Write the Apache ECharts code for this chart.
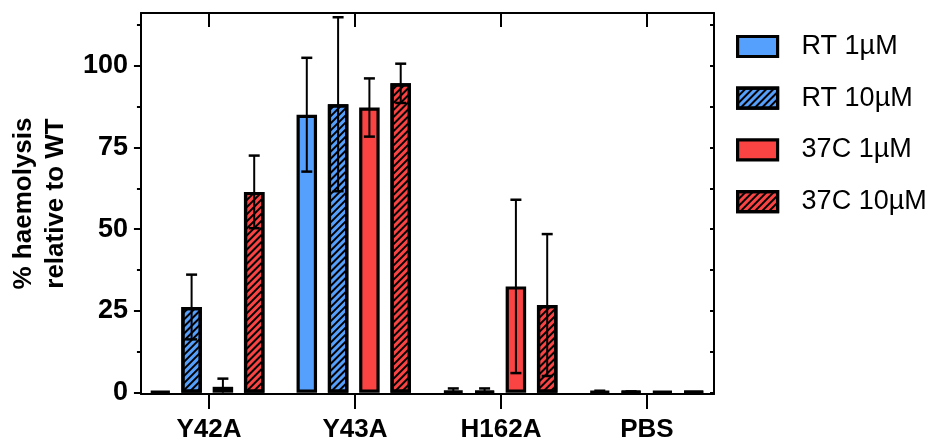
<!DOCTYPE html>
<html><head><meta charset="utf-8">
<script src="https://cdn.jsdelivr.net/npm/echarts@6/dist/echarts.min.js"></script>
<style>html,body{margin:0;padding:0;background:#fff}#c{width:948px;height:446px}</style>
</head><body><div id="c"></div>
<script>
// ---- data ----
const categories = ['Y42A', 'Y43A', 'H162A', 'PBS'];
const seriesNames = ['RT 1µM', 'RT 10µM', '37C 1µM', '37C 10µM'];
const rt1 = [0, 85.0, 0.5, 0.3];
const rt1Err = [0, 17.4, 0.8, 0.3];
const rt10 = [26.2, 88.2, 0.4, 0.2];
const rt10Err = [9.9, 26.6, 0.9, 0.2];
const c37_1 = [1.8, 87.2, 32.5, 0];
const c37_1Err = [2.5, 8.9, 26.5, 0];
const c37_10 = [61.4, 94.6, 26.8, 0];
const c37_10Err = [11.1, 6.0, 21.7, 0];
const yTicks = [0, 25, 50, 75, 100];
const yMinorTicks = [12.5, 37.5, 62.5, 87.5, 112.5];
const yRightTicks = [0, 12.5, 25, 37.5, 50, 62.5, 75, 87.5, 100, 112.5];

// ---- layout / style ----
const FONT = 'Liberation Sans, Arial, sans-serif';
const Y_MIN = -0.4, Y_MAX = 116.1;
const X_MIN = -0.466, X_MAX = 3.459;
const BAR_W = 20.5, BAR_GAP = 0.527;
const BLUE = '#56A0FD', RED = '#FA4343';
const hatch = {
  symbol: 'rect', symbolSize: 1, color: '#000',
  dashArrayX: [1, 0], dashArrayY: [2, 3], rotation: -Math.PI / 4
};
const means = [rt1, rt10, c37_1, c37_10];
const errs = [rt1Err, rt10Err, c37_1Err, c37_10Err];
const colors = [BLUE, BLUE, RED, RED];
const hatched = [false, true, false, true];

const chart = echarts.init(document.getElementById('c'), null, {renderer: 'canvas'});

const axisLine = {show: true, onZero: false, lineStyle: {color: '#000', width: 2}};
const series = [];
means.forEach((arr, si) => {
  const style = {color: colors[si], borderColor: '#000', borderWidth: 3.2};
  if (hatched[si]) style.decal = hatch;
  series.push({
    type: 'bar', name: seriesNames[si], xAxisIndex: 2, yAxisIndex: 3,
    barWidth: BAR_W, barGap: (BAR_GAP * 100) + '%', barMinHeight: 1.3,
    itemStyle: style,
    data: arr.slice(),
    z: 2
  });
});
const spacing = BAR_W * (1 + BAR_GAP);
means.forEach((arr, si) => {
  const offset = (si - 1.5) * spacing;
  series.push({
    type: 'custom', name: seriesNames[si] + ' err', xAxisIndex: 2, yAxisIndex: 3, z: 5,
    encode: {x: 0, y: 1},
    data: arr.map((v, i) => [i, v, errs[si][i]]),
    renderItem(params, api) {
      const cat = api.value(0), m = api.value(1), e = api.value(2);
      if (!e) return null;
      const hi = api.coord([cat, m + e]);
      const lo = api.coord([cat, Math.max(0, m - e)]);
      const x = hi[0] + offset;
      const st = {stroke: '#000', lineWidth: 2};
      const cap = {stroke: '#000', lineWidth: 2.5};
      const ch = [
        {type: 'line', shape: {x1: x, y1: hi[1], x2: x, y2: lo[1]}, style: st},
        {type: 'line', shape: {x1: x - 5.5, y1: hi[1], x2: x + 5.5, y2: hi[1]}, style: cap}
      ];
      if (m - e > 0) ch.push({type: 'line', shape: {x1: x - 5.5, y1: lo[1], x2: x + 5.5, y2: lo[1]}, style: cap});
      return {type: 'group', children: ch};
    }
  });
});

chart.setOption({
  animation: false,
  backgroundColor: '#fff',
  grid: [
    {left: 139, right: 234, top: 13, bottom: 52},
    {left: 134, right: 228, top: 13, bottom: 52}
  ],
  legend: {
    orient: 'vertical', left: 731, top: 28, itemWidth: 40, itemHeight: 20, itemGap: 24.7,
    icon: 'rect', data: seriesNames,
    itemStyle: {borderColor: '#000', borderWidth: 3.2},
    textStyle: {fontSize: 27, color: '#000', fontFamily: FONT, padding: [0, 0, 0, 19]}
  },
  xAxis: [
    {type: 'value', gridIndex: 0, position: 'bottom', min: X_MIN, max: X_MAX,
     axisLine, splitLine: {show: false},
     axisTick: {show: true, customValues: [0, 1, 2, 3], length: 15, lineStyle: {color: '#000', width: 2}},
     axisLabel: {show: true, customValues: [0, 1, 2, 3], formatter: v => categories[Math.round(v)],
       margin: 23, fontSize: 26, fontWeight: 'bold', color: '#000', fontFamily: FONT}},
    {type: 'value', gridIndex: 0, position: 'top', min: X_MIN, max: X_MAX,
     axisLine, splitLine: {show: false}, axisLabel: {show: false},
     axisTick: {show: true, inside: true, customValues: [0, 1, 2, 3], length: 14, lineStyle: {color: '#000', width: 2}}},
    {type: 'category', gridIndex: 1, data: categories, show: false}
  ],
  yAxis: [
    {type: 'value', gridIndex: 0, position: 'left', min: Y_MIN, max: Y_MAX,
     name: '% haemolysis\nrelative to WT', nameLocation: 'middle', nameGap: 68, nameRotate: 90,
     nameTextStyle: {fontSize: 26, fontWeight: 'bold', color: '#000', fontFamily: FONT, lineHeight: 32},
     axisLine, splitLine: {show: false},
     axisTick: {show: true, customValues: yTicks, length: 7, lineStyle: {color: '#000', width: 2}},
     axisLabel: {show: true, customValues: yTicks, margin: 13, fontSize: 27, fontWeight: 'bold', color: '#000', fontFamily: FONT}},
    {type: 'value', gridIndex: 0, position: 'left', min: Y_MIN, max: Y_MAX,
     axisLine: {show: false, onZero: false}, splitLine: {show: false}, axisLabel: {show: false},
     axisTick: {show: true, customValues: yMinorTicks, length: 4, lineStyle: {color: '#000', width: 2}}},
    {type: 'value', gridIndex: 0, position: 'right', min: Y_MIN, max: Y_MAX,
     axisLine, splitLine: {show: false}, axisLabel: {show: false},
     axisTick: {show: true, inside: true, customValues: yRightTicks, length: 4, lineStyle: {color: '#000', width: 2}}},
    {type: 'value', gridIndex: 1, min: Y_MIN, max: Y_MAX, show: false, splitLine: {show: false}}
  ],
  series
});
</script></body></html>
